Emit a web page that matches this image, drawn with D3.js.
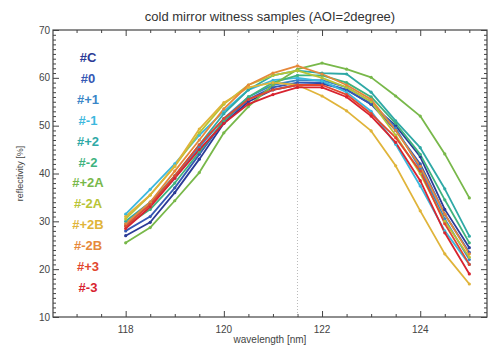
<!DOCTYPE html>
<html>
<head>
<meta charset="utf-8">
<script src="https://cdn.jsdelivr.net/npm/d3@7"></script>
<style>
  body { margin: 0; background: #fff; }
  svg text { font-family: "Liberation Sans", Arial, sans-serif; }
</style>
</head>
<body>
<div id="chart"></div>
<script>
// wavelength grid (nm)
const wavelengths = [118, 118.5, 119, 119.5, 120, 120.5, 121, 121.5, 122, 122.5, 123, 123.5, 124, 124.5, 125];

const sampleNames = ["#C", "#0", "#+1", "#-1", "#+2", "#-2", "#+2A", "#-2A", "#+2B", "#-2B", "#+3", "#-3"];
const sampleColors = ["#2b3b96", "#3558b4", "#3a86c8", "#3cb8de", "#2fa9a6", "#3fb37e", "#78b84a", "#b8c436", "#e0b43a", "#e6883a", "#e2472f", "#d8232f"];

// reflectivity [%] per sample
const refC   = [27.0, 29.8, 36.0, 43.0, 50.5, 55.0, 57.5, 58.5, 58.8, 57.5, 54.5, 50.0, 43.5, 32.5, 24.5];
const ref0   = [28.0, 31.0, 37.0, 44.0, 51.0, 55.5, 58.0, 59.0, 59.0, 57.5, 54.5, 49.0, 42.0, 31.5, 23.5];
const refP1  = [29.5, 33.5, 39.0, 45.5, 51.5, 56.0, 58.5, 59.5, 59.5, 58.0, 55.0, 49.5, 41.0, 30.5, 22.0];
const refM1  = [31.5, 36.7, 42.0, 48.0, 53.0, 57.5, 59.5, 60.0, 59.3, 57.0, 53.0, 46.1, 37.4, 28.0, 21.0];
const refP2  = [30.0, 34.0, 39.5, 46.0, 52.5, 57.5, 60.5, 61.5, 61.0, 60.8, 57.0, 51.0, 45.4, 36.8, 26.9];
const refM2  = [29.0, 32.5, 38.0, 44.5, 51.0, 56.0, 59.0, 60.5, 60.5, 59.0, 56.0, 50.5, 44.0, 34.5, 25.5];
const refP2A = [25.5, 28.7, 34.3, 40.2, 48.5, 54.0, 58.5, 61.8, 63.1, 61.8, 60.1, 56.2, 52.0, 44.1, 34.9];
const refM2A = [30.5, 35.5, 41.5, 48.5, 54.5, 58.5, 60.5, 61.5, 60.0, 58.0, 55.0, 48.0, 40.0, 30.0, 22.5];
const refP2B = [31.0, 35.5, 41.6, 49.3, 54.8, 58.0, 59.0, 58.5, 56.2, 53.1, 48.9, 41.6, 32.2, 23.2, 16.9];
const refM2B = [29.5, 34.0, 40.5, 47.0, 53.5, 58.5, 61.0, 62.5, 60.8, 58.5, 55.5, 49.0, 41.5, 31.5, 23.2];
const refP3  = [29.0, 33.5, 39.5, 46.0, 51.5, 55.5, 57.5, 58.5, 58.5, 56.5, 52.5, 47.5, 40.5, 29.5, 21.0];
const refM3  = [28.5, 33.0, 39.0, 45.0, 50.5, 54.5, 56.5, 58.0, 58.0, 56.0, 52.0, 46.5, 38.5, 27.6, 19.0];

const sampleValues = [refC, ref0, refP1, refM1, refP2, refM2, refP2A, refM2A, refP2B, refM2B, refP3, refM3];

const xMajor = [118, 120, 122, 124];
const yMajor = [10, 20, 30, 40, 50, 60, 70];
const markerWavelength = 121.5;

const width = 495, height = 349;
const margin = { top: 30, right: 8, bottom: 32, left: 53 };
const iw = width - margin.left - margin.right;
const ih = height - margin.top - margin.bottom;

const svg = d3.select("#chart").append("svg")
  .attr("width", width)
  .attr("height", height);

const g = svg.append("g").attr("transform", `translate(${margin.left},${margin.top})`);

const x = d3.scaleLinear().domain([116.52, 125.36]).range([0, iw]);
const y = d3.scaleLinear().domain([10, 70]).range([ih, 0]);

const axisColor = "#444";

// minor/major tick values
const xMinor = d3.range(117, 125.01, 0.5).filter(v => xMajor.indexOf(v) < 0);
const yMinor = d3.range(10, 70.01, 1).filter(v => yMajor.indexOf(v) < 0);

function drawAxis(axisGen, transform, vals, len) {
  const a = g.append("g").attr("transform", transform)
    .call(axisGen.tickValues(vals).tickSize(len).tickSizeOuter(0).tickFormat(""));
  a.select(".domain").remove();
  a.selectAll(".tick line").attr("stroke", axisColor);
  return a;
}

// ticks point inward on all four sides
drawAxis(d3.axisTop(x), `translate(0,${ih})`, xMinor, 3);
drawAxis(d3.axisTop(x), `translate(0,${ih})`, xMajor, 6);
drawAxis(d3.axisBottom(x), "translate(0,0)", xMinor, 3);
drawAxis(d3.axisBottom(x), "translate(0,0)", xMajor, 6);
drawAxis(d3.axisRight(y), "translate(0,0)", yMinor, 3);
drawAxis(d3.axisRight(y), "translate(0,0)", yMajor, 6);
drawAxis(d3.axisLeft(y), `translate(${iw},0)`, yMinor, 3);
drawAxis(d3.axisLeft(y), `translate(${iw},0)`, yMajor, 6);

// tick labels
g.append("g").selectAll("text").data(xMajor).join("text")
  .attr("x", d => x(d)).attr("y", ih + 16)
  .attr("text-anchor", "middle")
  .attr("fill", "#444").style("font-size", "10px")
  .text(d => d);
g.append("g").selectAll("text").data(yMajor).join("text")
  .attr("x", -3).attr("y", d => y(d) + 3.5)
  .attr("text-anchor", "end")
  .attr("fill", "#444").style("font-size", "10px")
  .text(d => d);

// frame
g.append("rect")
  .attr("width", iw).attr("height", ih)
  .attr("fill", "none").attr("stroke", axisColor).attr("stroke-width", 1.2);

// dotted reference line
g.append("line")
  .attr("x1", x(markerWavelength)).attr("x2", x(markerWavelength))
  .attr("y1", 0).attr("y2", ih)
  .attr("stroke", "#bbb").attr("stroke-width", 1)
  .attr("stroke-dasharray", "1,2");

// curves
const line = d3.line()
  .x((d, i) => x(wavelengths[i]))
  .y(d => y(d));

const series = sampleValues.map((vals, k) => ({ name: sampleNames[k], color: sampleColors[k], vals }));

g.append("g").selectAll("path").data(series).join("path")
  .attr("d", d => line(d.vals))
  .attr("fill", "none")
  .attr("stroke", d => d.color)
  .attr("stroke-width", 1.8)
  .attr("stroke-linejoin", "round");

const marks = g.append("g");
series.forEach(s => {
  marks.selectAll(null).data(s.vals).join("circle")
    .attr("cx", (d, i) => x(wavelengths[i]))
    .attr("cy", d => y(d))
    .attr("r", 1.6)
    .attr("fill", s.color);
});

// legend
g.append("g").selectAll("text").data(series).join("text")
  .attr("x", 35)
  .attr("y", (d, i) => 32 + i * 20.9)
  .attr("text-anchor", "middle")
  .attr("fill", d => d.color)
  .style("font-size", "13px")
  .style("font-weight", "bold")
  .text(d => d.name);

// title and labels
svg.append("text")
  .attr("x", margin.left + iw / 2).attr("y", 21)
  .attr("text-anchor", "middle")
  .attr("fill", "#333").style("font-size", "13px")
  .text("cold mirror witness samples (AOI=2degree)");

svg.append("text")
  .attr("x", margin.left + iw / 2).attr("y", 343)
  .attr("text-anchor", "middle")
  .attr("fill", "#444").style("font-size", "10px")
  .text("wavelength [nm]");

svg.append("text")
  .attr("transform", `translate(23,${margin.top + ih / 2}) rotate(-90)`)
  .attr("text-anchor", "middle")
  .attr("fill", "#444").style("font-size", "9px")
  .text("reflectivity [%]");
</script>
</body>
</html>
